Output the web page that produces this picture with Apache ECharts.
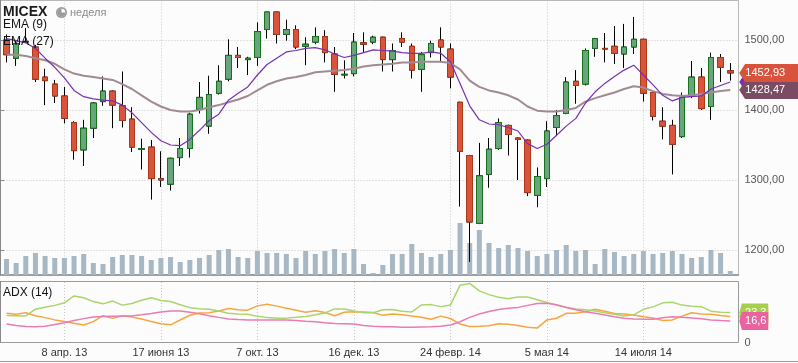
<!DOCTYPE html>
<html><head><meta charset="utf-8">
<script src="https://cdn.jsdelivr.net/npm/echarts@6/dist/echarts.min.js"></script>
<style>html,body{margin:0;padding:0;background:#fcfcfc;}#c{width:798px;height:363px;}</style>
</head><body><div id="c"></div>
<script>
// ---- data (weekly MICEX candles) ----
const opens  = [1500,1474,1497,1490,1447,1437,1420,1382,1343,1374, 1412,1427,1406,1387,1344,1347,1302,1294,1332,1345, 1401,1377,1424,1444,1478,1472,1475,1515,1540,1508, 1515,1491,1497,1505,1480,1450,1452,1496,1497,1504, 1472,1502,1491,1458,1482,1500,1487,1411,1335,1238, 1308,1345,1378,1360,1357,1278,1302,1375,1395,1441, 1437,1488,1488,1491,1480,1490,1501,1425,1384,1378, 1362,1420,1447,1405,1475,1456];
const closes = [1479,1495,1498,1444,1442,1420,1388,1342,1374,1410, 1427,1407,1385,1347,1345,1302,1300,1331,1345,1394, 1418,1422,1441,1478,1475,1474,1512,1540,1508,1515, 1490,1494,1505,1482,1451,1451,1497,1494,1504,1472, 1485,1497,1457,1479,1495,1490,1447,1341,1240,1306, 1344,1382,1365,1358,1282,1305,1370,1392,1440,1435, 1485,1502,1487,1481,1490,1501,1424,1391,1377,1351, 1418,1447,1402,1475,1461,1452.93];
const lows   = [1468,1463,1496,1440,1407,1410,1381,1329,1320,1360, 1406,1374,1375,1340,1315,1272,1290,1285,1320,1332, 1395,1366,1422,1441,1460,1450,1463,1502,1495,1499, 1487,1464,1494,1468,1426,1445,1448,1483,1494,1455, 1455,1490,1445,1426,1475,1468,1431,1262,1183,1237, 1289,1343,1335,1300,1277,1261,1290,1363,1394,1409, 1435,1476,1468,1466,1460,1480,1412,1385,1358,1308, 1360,1417,1400,1386,1440,1442];
const highs  = [1508,1500,1517,1493,1459,1443,1433,1384,1386,1411, 1448,1428,1455,1404,1359,1357,1341,1332,1360,1396, 1440,1449,1464,1501,1490,1476,1525,1540,1540,1529, 1521,1504,1518,1514,1490,1471,1510,1511,1506,1505, 1495,1511,1495,1483,1499,1518,1495,1412,1336,1353, 1360,1388,1379,1361,1358,1318,1384,1400,1447,1457, 1488,1503,1510,1520,1523,1533,1502,1426,1404,1386, 1425,1470,1460,1482,1480,1467];
const ema9   = [1502,1499,1496,1488,1474,1461,1446,1428,1419,1416, 1414,1413,1407,1396,1382,1368,1356,1350,1349,1358, 1371,1385,1394,1414,1424,1433,1450,1465,1474,1483, 1485,1488,1489,1486,1480,1475,1478,1482,1486,1485, 1484,1482,1481,1481,1483,1481,1469,1438,1406,1386, 1380,1379,1375,1370,1352,1345,1351,1364,1377,1388, 1410,1426,1438,1448,1457,1464,1450,1436,1421,1413, 1418,1419,1420,1430,1435,1440];
const ema27  = [1479,1479,1477,1474,1471,1466,1458,1452,1449,1447, 1445,1443,1437,1430,1421,1412,1405,1400,1398,1398, 1400,1404,1407,1411,1415,1420,1428,1436,1441,1445, 1447,1450,1454,1455,1456,1457,1459,1462,1464,1465, 1466,1468,1468,1469,1469,1469,1467,1458,1442,1433, 1428,1425,1421,1415,1405,1399,1398,1398,1400,1403, 1412,1417,1421,1425,1430,1434,1432,1427,1423,1421, 1420,1421,1423,1425,1427,1428.47];
const volumes = [16,12,19,22,19,17,17,19,21,12, 11,18,20,20,19,15,17,18,13,15, 17,20,25,26,18,17,24,22,22,21, 17,24,21,24,26,22,26,11,2,10, 21,21,31,22,18,21,25,52,32,45, 32,27,30,27,24,19,21,25,30,24, 25,11,26,23,19,21,24,21,22,24, 21,17,18,25,22,4];
const adx    = [14.3,13,12.3,12.1,12.5,13.8,15.2,17,18.5,19.8, 20.2,20.4,20.5,20.6,21.5,22.5,23.7,24.6,24.6,23.5, 22.3,20.8,19.5,18.3,17.8,17.5,17.4,17.4,17.4,17.4, 17.1,16.5,16,15.3,14.7,14.5,14.2,13,12.5,12.1, 12,11.7,11.6,11.8,12,12.5,13.5,16,19.5,22.2, 24.2,25.8,26.8,27.4,29,30.5,30.6,29.5,27.3,25.6, 24,22.8,21.4,20,18.8,18.2,18,18,19.2,20, 19.6,19,18.4,17.5,17,16.6];
const diPlus = [21,20.8,20.6,26,27.5,29,31,36.5,35,32, 30.2,32.4,29.2,30.5,33,35,32.8,32,29.5,27.2, 26.3,25.9,24.5,22.8,22.2,22,20.3,19.3,18.8,18.9, 19.5,20.2,21.5,23,26.2,26.2,24.5,23.2,23.2,25.5, 25.8,24.3,23.8,29.3,29.6,28,29.2,45,46.4,40.5, 37.5,35.5,34.2,35.6,35.6,33.5,31.3,29.2,27.5,26.2, 25.5,24.5,23.2,22,20.5,21.5,25.9,27.8,31,31.5, 29.2,28.3,28,24.4,23.5,23.3];
const diMinus = [22.8,22,23.2,20.8,19.3,17.5,16.3,14.8,13.5,16.1, 20.8,18.7,20.8,19.7,18.2,16.3,14.5,13.6,17.4,21.2, 23,23.2,24.5,26.5,25.6,25.2,28.6,29.8,28.4,26.8, 25.2,23.6,24.7,23.3,20.8,23.5,24,23.7,23.3,21.1, 22.1,21.6,20.5,19.6,18,20.5,18.6,14.2,12.2,12.4, 12.9,14.5,14,13,11.7,11,17.5,18.8,22.7,22.7, 24,25.9,24.3,22.6,22.2,21.4,20,19,17,17.5, 20.5,23.2,22.2,22,21,20.1];
const tickIndex  = [6,16,26,36,46,56,66];
const tickLabels = ['8 апр. 13','17 июня 13','7 окт. 13','16 дек. 13','24 февр. 14','5 мая 14','14 июля 14'];

// ---- build ----
const categories = closes.map((_, i) => String(i));
const last = closes.length - 1;
const labelOf = {}; tickIndex.forEach((t, k) => labelOf[t] = tickLabels[k]);
const isTick = (i) => labelOf[i] !== undefined;
const fmt = (v, d) => v.toFixed(d).replace('.', ',');
const FONT = '"Liberation Sans", Arial, sans-serif';
const PMIN = 1164.29, PMAX = 1556.43, AMAX = 47.5;
const wickData = opens.map((o, i) => [o, closes[i], lows[i], highs[i]]);
const bodyData = opens.map((o, i) => [o, closes[i], Math.min(o, closes[i]), Math.max(o, closes[i])]);
const badgePath = 'path://M0,9 L6,0 L66,0 L66,18 L6,18 Z';
function badge(value, text, color, w, z, lab) {
  return { z: z, symbol: badgePath, symbolSize: [w, 18], symbolKeepAspect: false,
    symbolOffset: [w / 2 + 9, 0], animation: false,
    label: { show: true, position: 'inside', color: '#fff', fontSize: 11, fontFamily: FONT, offset: lab },
    itemStyle: { color: color },
    data: [{ coord: [last, value], value: text }],
    label_: null };
}
const dotted = { color: '#c8c8c8', type: [1, 2], width: 1 };
const innerX = (gi, extra) => Object.assign({ type: 'category', gridIndex: gi, data: categories, boundaryGap: false,
  axisLine: { show: false }, axisTick: { show: false }, axisLabel: { show: false }, splitLine: { show: false } }, extra || {});

const chart = echarts.init(document.getElementById('c'));
chart.setOption({
  animation: false,
  backgroundColor: '#fcfcfc',
  grid: [
    { left: 0.5, top: 0.5, width: 738, height: 274.5, show: true, borderColor: '#b8b8b8', borderWidth: 1, backgroundColor: 'transparent' },
    { left: 6.5, top: 0.5, width: 723.75, height: 274.5 },
    { left: 6.5, top: 215, width: 723.75, height: 60 },
    { left: 0.5, top: 281.5, width: 738, height: 61, show: true, borderColor: '#9a9a9a', borderWidth: 1, backgroundColor: 'transparent' },
    { left: 6.5, top: 282, width: 723.75, height: 60 }
  ],
  xAxis: [
    { type: 'value', gridIndex: 0, min: 0, max: 1, axisLine: { show: true, lineStyle: { color: '#8a8a8a', width: 1.5 } }, axisTick: { show: false }, axisLabel: { show: false }, splitLine: { show: false } },
    innerX(1, { splitLine: { show: true, interval: (i) => isTick(i), lineStyle: dotted } }),
    innerX(2),
    { type: 'value', gridIndex: 3, min: 0, max: 1, show: false },
    innerX(4, { splitLine: { show: true, interval: (i) => isTick(i), lineStyle: dotted },
      axisLabel: { show: true, interval: (i) => isTick(i), formatter: (v, i) => labelOf[i] || '', color: '#333', fontSize: 11, fontFamily: FONT, margin: 5 } })
  ],
  yAxis: [
    { type: 'value', gridIndex: 0, position: 'right', min: PMIN, max: PMAX, scale: true,
      axisLine: { show: true, lineStyle: { color: '#8a8a8a' } }, axisTick: { show: true, length: 4, lineStyle: { color: '#8a8a8a' } },
      axisLabel: { formatter: (v) => fmt(v, 2), color: '#555', fontSize: 11, fontFamily: FONT, margin: 6, showMinLabel: false, showMaxLabel: false },
      splitLine: { show: true, lineStyle: dotted, showMinLine: false, showMaxLine: false } },
    { type: 'value', gridIndex: 1, min: PMIN, max: PMAX, show: false, splitLine: { show: false } },
    { type: 'value', gridIndex: 2, min: 0, max: 60, show: false, splitLine: { show: false } },
    { type: 'value', gridIndex: 3, position: 'right', min: 0, max: AMAX,
      axisLine: { show: true, lineStyle: { color: '#8a8a8a' } }, axisTick: { show: false },
      axisLabel: { formatter: (v) => v === 0 ? '0' : '', color: '#555', fontSize: 11, fontFamily: FONT, margin: 6 },
      splitLine: { show: false } },
    { type: 'value', gridIndex: 4, min: 0, max: AMAX, show: false, splitLine: { show: false } }
  ],
  series: [
    { type: 'bar', name: 'volume', xAxisIndex: 2, yAxisIndex: 2, data: volumes, barWidth: 5, clip: false, itemStyle: { color: '#a7b7c4' } },
    { type: 'candlestick', name: 'wick', xAxisIndex: 1, yAxisIndex: 1, data: wickData, barWidth: 6, clip: false,
      itemStyle: { color: '#000', color0: '#000', borderColor: '#000', borderColor0: '#000', borderWidth: 1 } },
    { type: 'candlestick', name: 'MICEX', xAxisIndex: 1, yAxisIndex: 1, data: bodyData, barWidth: 6, clip: false,
      itemStyle: { color: '#68a57d', color0: '#da543c', borderColor: '#17731c', borderColor0: '#ab3b18', borderWidth: 1 },
      markPoint: badge(closes[last], fmt(closes[last], 2), '#d9533c', 64, 12, [-6, 0]) },
    { type: 'line', name: 'EMA (27)', xAxisIndex: 1, yAxisIndex: 1, data: ema27, symbol: 'none', clip: false,
      lineStyle: { color: '#a08b95', width: 2 },
      markPoint: badge(ema27[last], fmt(ema27[last], 2), '#7a4b63', 64, 11, [-6, 0]) },
    { type: 'line', name: 'EMA (9)', xAxisIndex: 1, yAxisIndex: 1, data: ema9, symbol: 'none', clip: false,
      lineStyle: { color: '#7630b0', width: 1.2 },
      markPoint: badge(ema9[last], fmt(ema9[last], 2), '#7630b0', 64, 9, [-6, 0]) },
    { type: 'line', name: '-DI', xAxisIndex: 4, yAxisIndex: 4, data: diMinus, symbol: 'none', clip: false,
      lineStyle: { color: '#f7a53f', width: 1.5 },
      markPoint: badge(diMinus[last], fmt(diMinus[last], 1), '#f5a030', 29, 9, [2, 0]) },
    { type: 'line', name: '+DI', xAxisIndex: 4, yAxisIndex: 4, data: diPlus, symbol: 'none', clip: false,
      lineStyle: { color: '#abd46c', width: 1.5 },
      markPoint: badge(diPlus[last], fmt(diPlus[last], 1), '#a5cf4c', 29, 10, [2, 0]) },
    { type: 'line', name: 'ADX (14)', xAxisIndex: 4, yAxisIndex: 4, data: adx, symbol: 'none', clip: false,
      lineStyle: { color: '#e97cb3', width: 1.5 },
      markPoint: badge(adx[last], fmt(adx[last], 1), '#e9649f', 29, 11, [2, 0]) }
  ],
  graphic: [
    { type: 'text', x: 3, y: 12.3, z: 20, style: { text: 'MICEX', font: 'bold 14px ' + FONT, fill: '#1a1a1a', verticalAlign: 'middle' } },
    { type: 'circle', z: 20, shape: { cx: 61.5, cy: 12.5, r: 5.5 }, style: { fill: '#9a9a9a' } },
    { type: 'circle', z: 21, shape: { cx: 61.5, cy: 12.5, r: 3.8 }, style: { fill: '#fcfcfc' } },
    { type: 'sector', z: 22, shape: { cx: 61.5, cy: 12.5, r0: 0, r: 3.8, startAngle: 0, endAngle: Math.PI * 1.5, clockwise: true }, style: { fill: '#9a9a9a' } },
    { type: 'text', x: 70, y: 12.8, z: 20, style: { text: 'неделя', font: '11px ' + FONT, fill: '#8a8a8a', verticalAlign: 'middle' } },
    { type: 'text', x: 3, y: 25, z: 20, style: { text: 'EMA (9)', font: '12px ' + FONT, fill: '#111', verticalAlign: 'middle' } },
    { type: 'text', x: 3, y: 41.7, z: 20, style: { text: 'EMA (27)', font: '12px ' + FONT, fill: '#111', verticalAlign: 'middle' } },
    { type: 'text', x: 3, y: 292.4, z: 20, style: { text: 'ADX (14)', font: '12px ' + FONT, fill: '#111', verticalAlign: 'middle' } },
    { type: 'line', z: 20, shape: { x1: 0, y1: 361.5, x2: 798, y2: 361.5 }, style: { stroke: '#9a9a9a', lineWidth: 1 } }
  ]
});
</script>
</body></html>
